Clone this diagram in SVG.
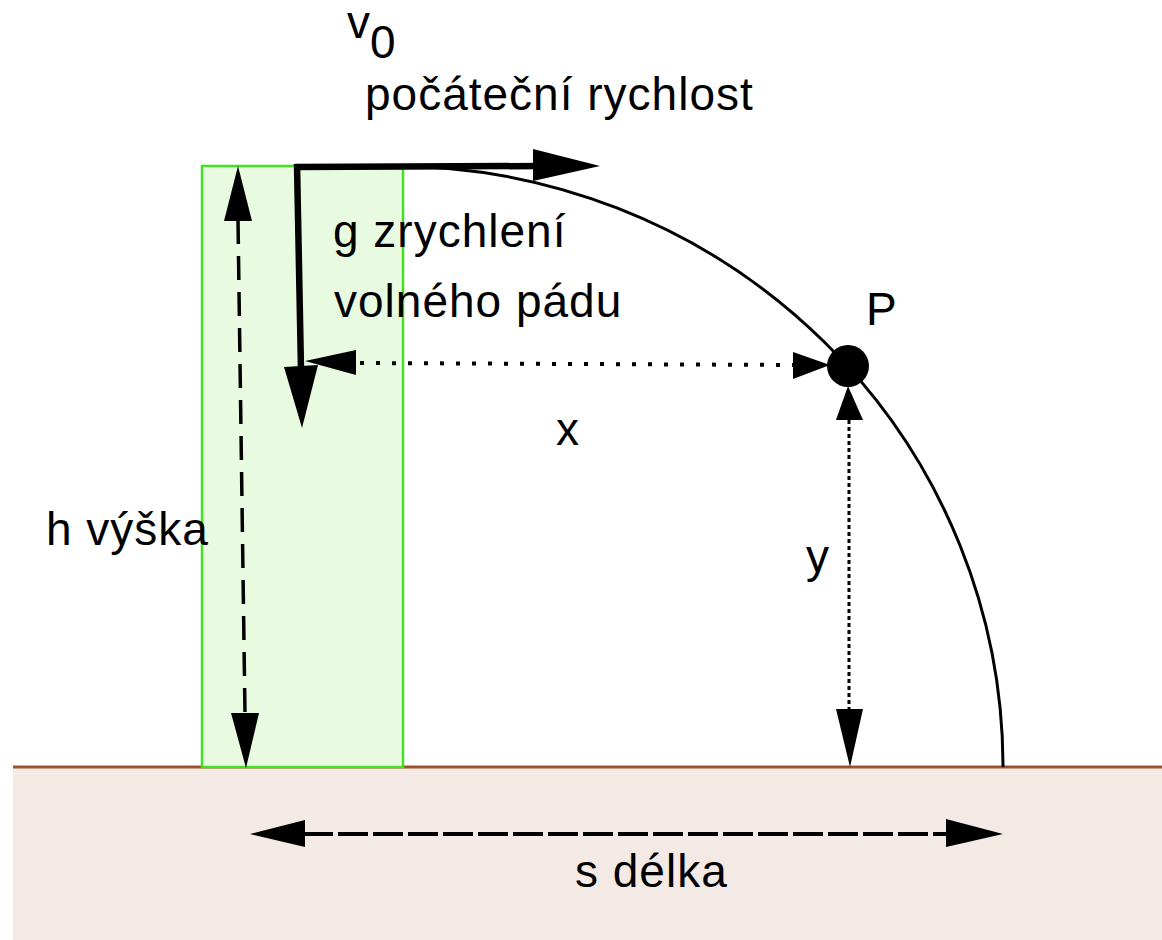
<svg xmlns="http://www.w3.org/2000/svg" width="1162" height="940" viewBox="0 0 1162 940">
<style>
text{font-family:"Liberation Sans",Arial,sans-serif;fill:#000;font-size:46px}
.lbl{letter-spacing:1px}
.ah{fill:#000;stroke:none}
</style>
<rect x="0" y="0" width="1162" height="940" fill="#fff"/>
<g id="ground">
<rect x="13" y="767" width="1149" height="173" fill="#f3e9e5"/>
<line x1="13" y1="767" x2="1162" y2="767" stroke="#a0522d" stroke-width="3"/>
</g>
<g id="building">
<rect x="202" y="166" width="201" height="601" fill="#e8fbe1" stroke="#44e022" stroke-width="2.5"/>
</g>
<g id="trajectory">
<path d="M 393 166 A 610 601 0 0 1 1003 767" fill="none" stroke="#000" stroke-width="3"/>
</g>
<g id="connectors">
<!-- v0 arrow -->
<line x1="295" y1="167" x2="540" y2="166" stroke="#000" stroke-width="6.5"/>
<polygon class="ah" points="533,149 600,166 533,181"/>
<!-- g arrow -->
<line x1="297" y1="164" x2="301" y2="370" stroke="#000" stroke-width="6.5"/>
<polygon class="ah" points="284,367 318,365 302,428"/>
<!-- x dotted -->
<line x1="360" y1="363" x2="795" y2="365" stroke="#000" stroke-width="4" stroke-dasharray="4 12"/>
<polygon class="ah" points="305,361 356,350 356,375"/>
<polygon class="ah" points="793,352 830,365 793,379"/>
<!-- y dotted -->
<line x1="849" y1="420" x2="849" y2="712" stroke="#000" stroke-width="3" stroke-dasharray="4 3"/>
<polygon class="ah" points="848,386 836,420 863,420"/>
<polygon class="ah" points="836,709 863,709 850,767"/>
<!-- h dashed -->
<line x1="238" y1="220" x2="245" y2="714" stroke="#000" stroke-width="3.5" stroke-dasharray="24 12"/>
<polygon class="ah" points="238,166 224,221 252,221"/>
<polygon class="ah" points="231,713 259,713 246,768"/>
<!-- s dashed -->
<line x1="303" y1="834" x2="948" y2="834" stroke="#000" stroke-width="4" stroke-dasharray="30 5"/>
<polygon class="ah" points="250,834 305,820 305,847"/>
<polygon class="ah" points="946,819 1003,834 946,847"/>
</g>
<g id="point-P">
<circle cx="848" cy="366" r="21" fill="#000"/>
<text x="866" y="325" font-size="44">P</text>
</g>
<g id="labels">
<text x="347" y="38" font-size="34">v</text>
<text x="370" y="58" font-size="32">0</text>
<text class="lbl" x="365" y="110" font-size="47">počáteční rychlost</text>
<text class="lbl" x="333" y="247" font-size="47">g zrychlení</text>
<text class="lbl" x="334" y="317" font-size="47">volného pádu</text>
<text x="556" y="445" font-size="44">x</text>
<text x="806" y="572" font-size="44">y</text>
<text class="lbl" x="46" y="545" font-size="46">h výška</text>
<text class="lbl" x="575" y="887" font-size="46">s délka</text>
</g>
</svg>
